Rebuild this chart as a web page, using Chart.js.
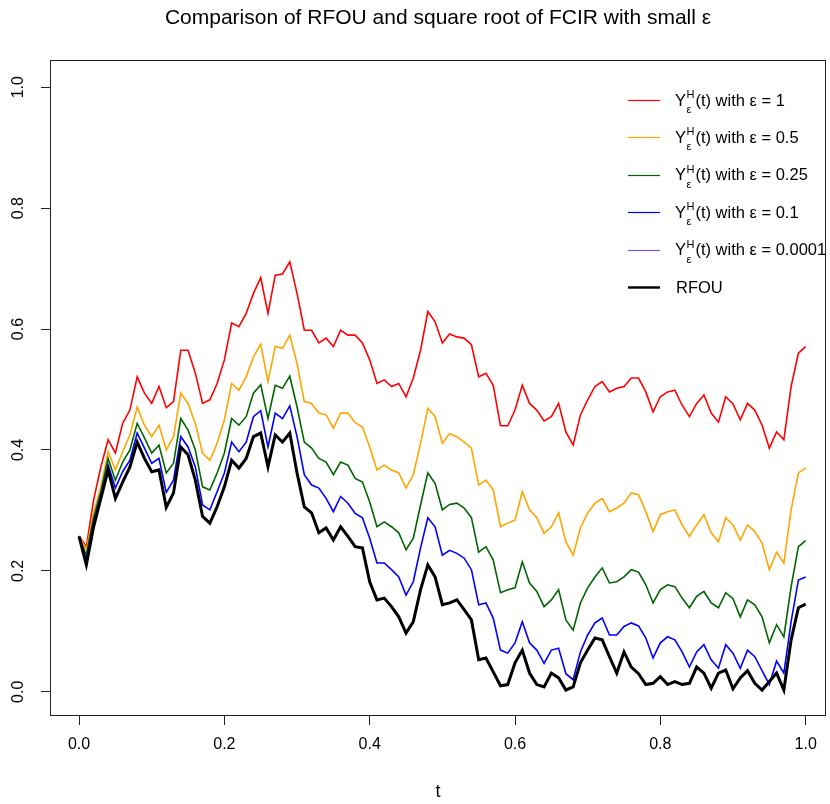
<!DOCTYPE html>
<html>
<head>
<meta charset="utf-8">
<title>RFOU vs square root of FCIR</title>
<script src="https://cdn.jsdelivr.net/npm/chart.js@4"></script>
<style>
  html, body { margin: 0; padding: 0; background: #fff; }
  #wrap { width: 830px; height: 804px; }
</style>
</head>
<body>
<div id="wrap"><canvas id="fcirChart" width="830" height="804"></canvas></div>
<script>
// sample step of the paths (t = 0, 0.01, ..., 1)
const dt = 0.01;

const epsValues = ['1', '0.5', '0.25', '0.1', '0.0001'];
const xTickValues = [0, 0.2, 0.4, 0.6, 0.8, 1.0];
const yTickValues = [0, 0.2, 0.4, 0.6, 0.8, 1.0];

// values
const yEps1 = [
  0.258, 0.240, 0.317, 0.372, 0.417, 0.395, 0.444, 0.466, 0.521, 0.494,
  0.477, 0.505, 0.470, 0.480, 0.565, 0.565, 0.527, 0.477, 0.483, 0.510,
  0.549, 0.610, 0.604, 0.626, 0.659, 0.685, 0.626, 0.689, 0.691, 0.711,
  0.659, 0.598, 0.598, 0.577, 0.585, 0.571, 0.598, 0.590, 0.590, 0.577,
  0.549, 0.510, 0.516, 0.505, 0.510, 0.488, 0.519, 0.565, 0.629, 0.612,
  0.577, 0.592, 0.587, 0.585, 0.574, 0.521, 0.527, 0.507, 0.440, 0.440,
  0.466, 0.507, 0.477, 0.466, 0.448, 0.455, 0.477, 0.430, 0.408, 0.458,
  0.483, 0.505, 0.513, 0.496, 0.502, 0.505, 0.519, 0.519, 0.496, 0.463,
  0.488, 0.496, 0.499, 0.474, 0.455, 0.477, 0.491, 0.461, 0.446, 0.488,
  0.476, 0.450, 0.477, 0.466, 0.441, 0.403, 0.430, 0.417, 0.505, 0.560,
  0.571
];
const yEps05 = [
  0.257, 0.235, 0.296, 0.339, 0.397, 0.367, 0.397, 0.425, 0.471, 0.441,
  0.422, 0.441, 0.400, 0.422, 0.494, 0.477, 0.444, 0.395, 0.383, 0.411,
  0.450, 0.510, 0.499, 0.521, 0.554, 0.575, 0.513, 0.571, 0.568, 0.590,
  0.543, 0.480, 0.477, 0.461, 0.458, 0.436, 0.461, 0.461, 0.445, 0.438,
  0.405, 0.367, 0.375, 0.367, 0.362, 0.337, 0.359, 0.411, 0.469, 0.455,
  0.411, 0.427, 0.422, 0.413, 0.403, 0.342, 0.350, 0.334, 0.273, 0.279,
  0.284, 0.331, 0.301, 0.288, 0.262, 0.273, 0.296, 0.248, 0.226, 0.271,
  0.296, 0.312, 0.320, 0.298, 0.304, 0.312, 0.329, 0.326, 0.298, 0.265,
  0.293, 0.298, 0.301, 0.276, 0.257, 0.276, 0.293, 0.263, 0.248, 0.288,
  0.276, 0.251, 0.276, 0.265, 0.246, 0.202, 0.231, 0.213, 0.301, 0.362,
  0.370
];
const yEps025 = [
  0.257, 0.226, 0.288, 0.331, 0.386, 0.350, 0.380, 0.400, 0.444, 0.420,
  0.395, 0.408, 0.362, 0.378, 0.452, 0.433, 0.400, 0.339, 0.334, 0.362,
  0.395, 0.452, 0.441, 0.455, 0.494, 0.508, 0.452, 0.507, 0.502, 0.522,
  0.471, 0.413, 0.403, 0.386, 0.380, 0.359, 0.380, 0.375, 0.353, 0.347,
  0.314, 0.273, 0.281, 0.273, 0.263, 0.235, 0.254, 0.309, 0.362, 0.345,
  0.301, 0.310, 0.312, 0.304, 0.288, 0.231, 0.240, 0.218, 0.164, 0.169,
  0.172, 0.215, 0.180, 0.166, 0.141, 0.152, 0.169, 0.119, 0.102, 0.147,
  0.172, 0.190, 0.205, 0.180, 0.182, 0.190, 0.202, 0.198, 0.177, 0.147,
  0.169, 0.177, 0.174, 0.155, 0.139, 0.158, 0.166, 0.147, 0.139, 0.164,
  0.154, 0.124, 0.152, 0.144, 0.124, 0.081, 0.111, 0.091, 0.174, 0.240,
  0.250
];
const yEps01 = [
  0.257, 0.218, 0.281, 0.324, 0.375, 0.337, 0.364, 0.383, 0.428, 0.403,
  0.378, 0.386, 0.330, 0.350, 0.422, 0.405, 0.372, 0.309, 0.301, 0.331,
  0.362, 0.413, 0.397, 0.413, 0.455, 0.465, 0.405, 0.461, 0.452, 0.473,
  0.422, 0.359, 0.342, 0.337, 0.320, 0.298, 0.323, 0.312, 0.295, 0.288,
  0.254, 0.213, 0.213, 0.202, 0.190, 0.160, 0.182, 0.238, 0.288, 0.273,
  0.226, 0.234, 0.229, 0.221, 0.202, 0.144, 0.147, 0.122, 0.069, 0.064,
  0.081, 0.116, 0.081, 0.069, 0.047, 0.069, 0.072, 0.030, 0.020, 0.066,
  0.094, 0.114, 0.122, 0.094, 0.094, 0.108, 0.114, 0.109, 0.089, 0.056,
  0.081, 0.091, 0.086, 0.066, 0.041, 0.066, 0.078, 0.053, 0.039, 0.078,
  0.064, 0.039, 0.069, 0.058, 0.035, 0.012, 0.051, 0.031, 0.116, 0.185,
  0.190
];
const rfou = [
  0.257, 0.210, 0.273, 0.320, 0.367, 0.320, 0.347, 0.372, 0.413, 0.386,
  0.364, 0.367, 0.305, 0.329, 0.405, 0.392, 0.350, 0.290, 0.279, 0.306,
  0.339, 0.383, 0.370, 0.386, 0.422, 0.428, 0.372, 0.425, 0.413, 0.428,
  0.362, 0.306, 0.296, 0.263, 0.271, 0.251, 0.273, 0.257, 0.240, 0.238,
  0.182, 0.152, 0.155, 0.141, 0.124, 0.097, 0.116, 0.169, 0.210, 0.190,
  0.144, 0.147, 0.152, 0.136, 0.119, 0.053, 0.056, 0.033, 0.010, 0.012,
  0.048, 0.069, 0.031, 0.012, 0.008, 0.031, 0.023, 0.003, 0.008, 0.048,
  0.069, 0.089, 0.086, 0.058, 0.031, 0.066, 0.041, 0.030, 0.012, 0.014,
  0.025, 0.012, 0.017, 0.012, 0.014, 0.041, 0.031, 0.006, 0.031, 0.036,
  0.005, 0.023, 0.035, 0.014, 0.003, 0.017, 0.031, 0.003, 0.086, 0.139,
  0.145
];
// the eps = 0.0001 path lies exactly under the RFOU path in the picture
const yEps00001 = rfou.slice();

const FONT = '"Liberation Sans", Arial, sans-serif';

function toPoints(vals) {
  return vals.map((v, i) => ({ x: +(i * dt).toFixed(2), y: v }));
}

function pathSet(label, eps, vals, color, width, order) {
  return {
    label: label,
    eps: eps,
    data: toPoints(vals),
    borderColor: color,
    backgroundColor: color,
    borderWidth: width,
    pointRadius: 0,
    tension: 0,
    fill: false,
    order: order
  };
}

// box round the plot area, like R's box()
const boxPlugin = {
  id: 'rBox',
  afterDraw(chart) {
    const a = chart.chartArea;
    const ctx = chart.ctx;
    ctx.save();
    ctx.strokeStyle = '#222';
    ctx.lineWidth = 1;
    ctx.strokeRect(Math.round(a.left) + 0.5, Math.round(a.top) + 0.5,
      Math.round(a.right - a.left) - 1, Math.round(a.bottom - a.top) - 1);
    ctx.restore();
  }
};

// y tick labels turned 90 degrees (R las = 0)
const yLabelPlugin = {
  id: 'rYLabels',
  afterDraw(chart) {
    const ys = chart.scales.y;
    const ctx = chart.ctx;
    ctx.save();
    ctx.font = '16px ' + FONT;
    ctx.fillStyle = '#000';
    ctx.textAlign = 'center';
    ctx.textBaseline = 'middle';
    ys.ticks.forEach((tk, i) => {
      const py = ys.getPixelForTick(i);
      ctx.save();
      ctx.translate(19, py);
      ctx.rotate(-Math.PI / 2);
      ctx.fillText(tk.value.toFixed(1), 0, 0);
      ctx.restore();
    });
    ctx.restore();
  }
};

// legend without frame, Y with stacked H / epsilon
const legendPlugin = {
  id: 'rLegend',
  afterDraw(chart) {
    const ctx = chart.ctx;
    const lineX0 = 628, lineX1 = 660, textX = 675;
    const firstRow = 100, rowStep = 37.4;
    ctx.save();
    ctx.textBaseline = 'middle';
    ctx.textAlign = 'left';
    ctx.fillStyle = '#000';
    chart.data.datasets.forEach((ds, i) => {
      const y = firstRow + i * rowStep;
      ctx.strokeStyle = ds.borderColor;
      ctx.lineWidth = ds.eps ? 1.2 : 2.4;
      ctx.beginPath();
      ctx.moveTo(lineX0, Math.round(y) + 0.5);
      ctx.lineTo(lineX1, Math.round(y) + 0.5);
      ctx.stroke();
      ctx.font = '16.5px ' + FONT;
      if (ds.eps) {
        ctx.fillText('Y', textX, y + 1);
        const wY = ctx.measureText('Y').width;
        ctx.font = '11px ' + FONT;
        ctx.fillText('H', textX + wY + 0.5, y - 5);
        ctx.fillText('ε', textX + wY + 0.5, y + 10);
        const wS = Math.max(ctx.measureText('H').width, ctx.measureText('ε').width);
        ctx.font = '16.5px ' + FONT;
        ctx.fillText('(t) with ε = ' + ds.eps, textX + wY + wS + 1.5, y + 1);
      } else {
        ctx.fillText(ds.label, textX + 1, y + 1);
      }
    });
    ctx.restore();
  }
};

const tickGrid = {
  display: true,
  drawOnChartArea: false,
  drawTicks: true,
  tickLength: 9,
  color: '#222',
  lineWidth: 1
};

new Chart(document.getElementById('fcirChart'), {
  type: 'line',
  data: {
    datasets: [
      pathSet('eps = 1', epsValues[0], yEps1, '#FF0000', 1.6, 5),
      pathSet('eps = 0.5', epsValues[1], yEps05, '#FFA500', 1.6, 4),
      pathSet('eps = 0.25', epsValues[2], yEps025, '#006400', 1.6, 3),
      pathSet('eps = 0.1', epsValues[3], yEps01, '#0000FF', 1.6, 2),
      pathSet('eps = 0.0001', epsValues[4], yEps00001, '#7E57C2', 1.6, 1),
      pathSet('RFOU', null, rfou, '#000000', 3, 0)
    ]
  },
  options: {
    responsive: false,
    animation: false,
    devicePixelRatio: 1,
    layout: { padding: { left: 0, right: 4, top: 0, bottom: 0 } },
    plugins: {
      legend: { display: false },
      tooltip: { enabled: false },
      title: {
        display: true,
        fullSize: false,
        text: 'Comparison of RFOU and square root of FCIR with small ε',
        color: '#000',
        font: { family: FONT, size: 21, weight: 'normal' },
        padding: { top: 6, bottom: 28.8 }
      }
    },
    scales: {
      x: {
        type: 'linear',
        min: -0.04,
        max: 1.028,
        afterBuildTicks: s => { s.ticks = xTickValues.map(v => ({ value: v })); },
        afterFit: s => { s.height = 88; },
        ticks: {
          color: '#000',
          font: { family: FONT, size: 16 },
          padding: 10,
          maxRotation: 0,
          autoSkip: false,
          callback: v => v.toFixed(1)
        },
        grid: tickGrid,
        border: { display: false },
        title: {
          display: true,
          text: 't',
          color: '#000',
          font: { family: FONT, size: 18 },
          padding: { top: 0, bottom: 1 }
        }
      },
      y: {
        type: 'linear',
        min: -0.04,
        max: 1.045,
        afterBuildTicks: s => { s.ticks = yTickValues.map(v => ({ value: v })); },
        afterFit: s => { s.width = 50; },
        ticks: { display: false },
        grid: tickGrid,
        border: { display: false }
      }
    }
  },
  plugins: [boxPlugin, yLabelPlugin, legendPlugin]
});
</script>
</body>
</html>
